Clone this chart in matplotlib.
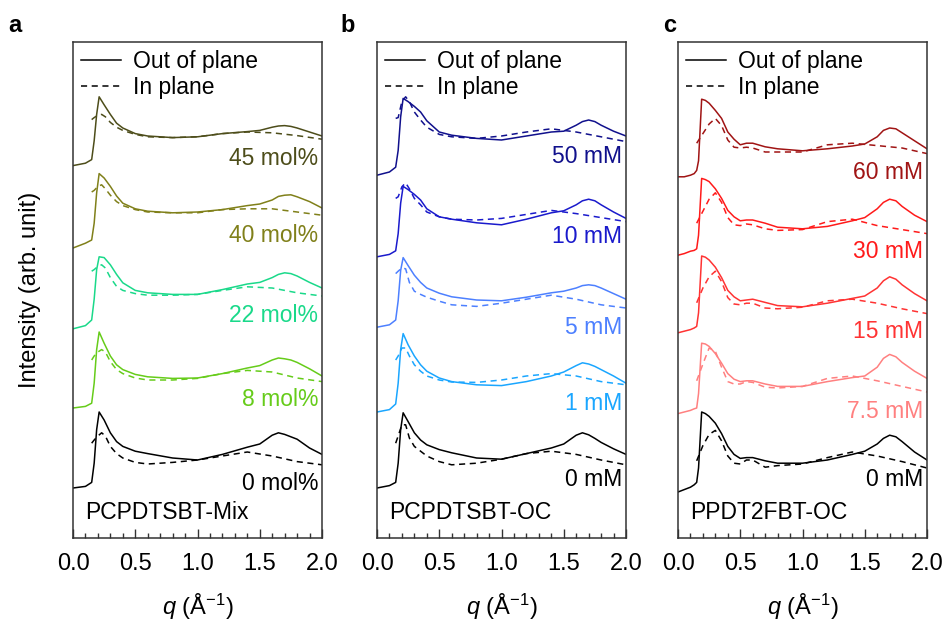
import matplotlib.pyplot as plt
from matplotlib.lines import Line2D
from matplotlib.ticker import MultipleLocator, FuncFormatter

plt.rcParams['font.family'] = ['Liberation Sans', 'DejaVu Sans']
plt.rcParams['mathtext.fontset'] = 'custom'
plt.rcParams['mathtext.rm'] = 'Liberation Sans'
plt.rcParams['mathtext.it'] = 'Liberation Sans:italic'

# q grids (1/Angstrom) for out-of-plane (oop) and in-plane (ip) line cuts
q_oop_ab = [0, 0.1, 0.15, 0.17, 0.19, 0.21, 0.25, 0.3, 0.35, 0.4, 0.5, 0.6, 0.8, 1.0,
            1.2, 1.4, 1.5, 1.6, 1.65, 1.7, 1.75, 1.8, 1.9, 2.0]
q_ip_ab = [0.15, 0.17, 0.2, 0.23, 0.26, 0.3, 0.35, 0.4, 0.5, 0.6, 0.8, 1.0, 1.2, 1.4,
           1.6, 1.8, 2.0]
q_oop_c = [0, 0.05, 0.1, 0.13, 0.15, 0.165, 0.19, 0.22, 0.25, 0.3, 0.35, 0.4, 0.45, 0.5,
           0.55, 0.6, 0.7, 0.8, 1.0, 1.2, 1.4, 1.5, 1.6, 1.65, 1.7, 1.75, 1.8, 1.9, 2.0]
q_ip_c = [0.15, 0.2, 0.25, 0.3, 0.35, 0.4, 0.45, 0.5, 0.55, 0.6, 0.7, 0.8, 1.0, 1.2, 1.4,
          1.6, 1.8, 2.0]

# a: PCPDTSBT-Mix
a45_oop = [0, 0.03, 0.075, 0.31, 0.64, 0.86, 0.76, 0.64, 0.53, 0.47, 0.40, 0.37, 0.35, 0.36,
           0.40, 0.425, 0.44, 0.48, 0.495, 0.50, 0.49, 0.47, 0.42, 0.37]
a45_ip = [0.575, 0.60, 0.63, 0.64, 0.61, 0.54, 0.48, 0.44, 0.39, 0.36, 0.35, 0.36, 0.40, 0.42,
          0.41, 0.375, 0.33]
a40_oop = [0, 0.06, 0.10, 0.31, 0.69, 0.93, 0.875, 0.77, 0.65, 0.56, 0.49, 0.46, 0.44, 0.45,
           0.48, 0.53, 0.55, 0.60, 0.645, 0.66, 0.665, 0.64, 0.58, 0.50]
a40_ip = [0.70, 0.72, 0.77, 0.79, 0.74, 0.66, 0.58, 0.53, 0.48, 0.45, 0.44, 0.44, 0.48, 0.49,
          0.49, 0.45, 0.41]
a22_oop = [0, 0.04, 0.11, 0.37, 0.74, 0.90, 0.89, 0.80, 0.68, 0.575, 0.48, 0.45, 0.43, 0.43,
           0.49, 0.56, 0.58, 0.64, 0.68, 0.70, 0.69, 0.66, 0.58, 0.51]
a22_ip = [0.72, 0.74, 0.78, 0.80, 0.76, 0.64, 0.53, 0.48, 0.44, 0.42, 0.42, 0.43, 0.48, 0.525,
          0.51, 0.45, 0.41]
a8_oop = [0, 0.02, 0.06, 0.31, 0.73, 0.95, 0.81, 0.65, 0.54, 0.48, 0.42, 0.39, 0.37, 0.375,
          0.43, 0.50, 0.53, 0.60, 0.625, 0.615, 0.60, 0.57, 0.49, 0.40]
a8_ip = [0.60, 0.65, 0.70, 0.73, 0.70, 0.58, 0.48, 0.43, 0.375, 0.35, 0.35, 0.37, 0.43, 0.47,
         0.45, 0.375, 0.33]
a0_oop = [0, 0.02, 0.07, 0.31, 0.73, 0.95, 0.85, 0.69, 0.58, 0.52, 0.46, 0.43, 0.375, 0.35,
          0.42, 0.51, 0.55, 0.66, 0.69, 0.67, 0.64, 0.61, 0.50, 0.42]
a0_ip = [0.56, 0.60, 0.65, 0.69, 0.65, 0.52, 0.43, 0.375, 0.32, 0.30, 0.32, 0.35, 0.40, 0.45,
         0.40, 0.33, 0.29]

# b: PCPDTSBT-OC
b50_oop = [0, 0.04, 0.10, 0.31, 0.73, 0.96, 0.92, 0.86, 0.79, 0.68, 0.54, 0.50, 0.46, 0.44,
           0.49, 0.54, 0.55, 0.625, 0.67, 0.69, 0.67, 0.625, 0.55, 0.49]
b50_ip = [0.71, 0.72, 0.92, 0.98, 0.92, 0.79, 0.69, 0.60, 0.51, 0.48, 0.46, 0.49, 0.54, 0.58,
          0.54, 0.48, 0.42]
b10_oop = [0, 0.03, 0.075, 0.29, 0.67, 0.88, 0.84, 0.78, 0.71, 0.60, 0.50, 0.47, 0.425, 0.40,
           0.47, 0.55, 0.575, 0.65, 0.70, 0.72, 0.70, 0.65, 0.56, 0.48]
b10_ip = [0.73, 0.75, 0.875, 0.925, 0.85, 0.73, 0.65, 0.56, 0.50, 0.47, 0.46, 0.48, 0.53, 0.58,
          0.54, 0.49, 0.44]
b5_oop = [0, 0.03, 0.09, 0.33, 0.71, 0.87, 0.77, 0.65, 0.56, 0.49, 0.425, 0.38, 0.34, 0.33,
          0.375, 0.43, 0.45, 0.49, 0.52, 0.53, 0.52, 0.49, 0.42, 0.35]
b5_ip = [0.67, 0.70, 0.74, 0.73, 0.56, 0.45, 0.41, 0.375, 0.325, 0.28, 0.26, 0.30, 0.35, 0.40,
         0.35, 0.28, 0.24]
b1_oop = [0, 0.03, 0.10, 0.36, 0.78, 0.98, 0.84, 0.70, 0.59, 0.51, 0.425, 0.38, 0.34, 0.33,
          0.38, 0.45, 0.50, 0.58, 0.615, 0.60, 0.57, 0.53, 0.45, 0.36]
b1_ip = [0.65, 0.70, 0.80, 0.80, 0.70, 0.59, 0.51, 0.45, 0.40, 0.375, 0.37, 0.40, 0.45, 0.48,
         0.45, 0.38, 0.34]
b0_oop = [0, 0.03, 0.07, 0.31, 0.73, 0.94, 0.83, 0.69, 0.60, 0.54, 0.48, 0.44, 0.375, 0.36,
          0.43, 0.50, 0.55, 0.66, 0.69, 0.665, 0.62, 0.57, 0.49, 0.42]
b0_ip = [0.56, 0.65, 0.79, 0.79, 0.625, 0.52, 0.46, 0.40, 0.33, 0.29, 0.31, 0.36, 0.43, 0.46,
         0.42, 0.35, 0.29]

# c: PPDT2FBT-OC
c60_oop = [0, 0, 0.02, 0.04, 0.08, 0.20, 0.97, 0.955, 0.92, 0.83, 0.73, 0.56, 0.47, 0.40,
           0.42, 0.42, 0.375, 0.35, 0.325, 0.35, 0.385, 0.41, 0.50, 0.58, 0.61, 0.60, 0.55,
           0.45, 0.35]
c60_ip = [0.42, 0.54, 0.66, 0.73, 0.64, 0.46, 0.37, 0.36, 0.37, 0.36, 0.31, 0.31, 0.31, 0.40,
          0.42, 0.39, 0.36, 0.29]
c30_oop = [0, 0.02, 0.05, 0.06, 0.08, 0.25, 0.96, 0.945, 0.92, 0.83, 0.71, 0.56, 0.48, 0.43,
           0.44, 0.44, 0.40, 0.35, 0.33, 0.36, 0.43, 0.47, 0.58, 0.66, 0.70, 0.68, 0.61,
           0.50, 0.42]
c30_ip = [0.40, 0.55, 0.70, 0.78, 0.66, 0.47, 0.38, 0.37, 0.39, 0.38, 0.33, 0.31, 0.32, 0.42,
          0.45, 0.37, 0.32, 0.27]
c15_oop = [0, 0.02, 0.04, 0.06, 0.08, 0.25, 0.96, 0.945, 0.91, 0.82, 0.69, 0.53, 0.45, 0.40,
           0.41, 0.42, 0.38, 0.34, 0.325, 0.37, 0.43, 0.46, 0.56, 0.65, 0.70, 0.67, 0.60,
           0.49, 0.40]
c15_ip = [0.375, 0.56, 0.70, 0.77, 0.64, 0.44, 0.36, 0.35, 0.37, 0.37, 0.31, 0.30, 0.32, 0.40,
          0.42, 0.37, 0.30, 0.24]
c7_oop = [0, 0.02, 0.04, 0.06, 0.07, 0.25, 0.88, 0.87, 0.84, 0.75, 0.63, 0.50, 0.43, 0.40,
          0.41, 0.41, 0.37, 0.34, 0.34, 0.40, 0.45, 0.47, 0.58, 0.69, 0.74, 0.71, 0.64,
          0.53, 0.44]
c7_ip = [0.41, 0.62, 0.82, 0.78, 0.58, 0.40, 0.37, 0.37, 0.40, 0.39, 0.33, 0.32, 0.34, 0.44,
         0.47, 0.41, 0.34, 0.27]
c0_oop = [0, 0.03, 0.06, 0.09, 0.12, 0.30, 1.0, 0.98, 0.945, 0.86, 0.73, 0.57, 0.47, 0.42,
          0.43, 0.43, 0.39, 0.36, 0.36, 0.40, 0.47, 0.51, 0.60, 0.67, 0.71, 0.69, 0.63,
          0.50, 0.40]
c0_ip = [0.39, 0.58, 0.72, 0.77, 0.64, 0.45, 0.36, 0.35, 0.40, 0.40, 0.31, 0.33, 0.35, 0.43,
         0.50, 0.45, 0.38, 0.30]

# sample labels, colours and vertical offsets (bottom trace first)
labels_a = ['0 mol%', '8 mol%', '22 mol%', '40 mol%', '45 mol%']
labels_b = ['0 mM', '1 mM', '5 mM', '10 mM', '50 mM']
labels_c = ['0 mM', '7.5 mM', '15 mM', '30 mM', '60 mM']
colors_a = ['black', '#66cc1a', '#1ad98a', '#80801a', '#4d4d1a']
colors_b = ['black', '#1aa6ff', '#4d80ff', '#1a1acc', '#10108c']
colors_c = ['black', '#ff8080', '#ff3333', '#ff1a1a', '#a01414']
offsets_a = [0, 1.0, 1.99, 3.0, 4.03]
offsets_b = [0, 0.95, 2.01, 2.89, 3.91]
offsets_c = [-0.05, 0.93, 1.94, 2.91, 3.89]
label_y_a = [0.06, 1.10, 2.16, 3.16, 4.12]
label_y_b = [0.10, 1.05, 2.01, 3.14, 4.14]
label_y_c = [0.10, 0.96, 1.95, 2.95, 3.94]

panels = [
    ('a', 'PCPDTSBT-Mix', q_oop_ab, q_ip_ab, labels_a, colors_a, offsets_a, label_y_a,
     [a0_oop, a8_oop, a22_oop, a40_oop, a45_oop], [a0_ip, a8_ip, a22_ip, a40_ip, a45_ip]),
    ('b', 'PCPDTSBT-OC', q_oop_ab, q_ip_ab, labels_b, colors_b, offsets_b, label_y_b,
     [b0_oop, b1_oop, b5_oop, b10_oop, b50_oop], [b0_ip, b1_ip, b5_ip, b10_ip, b50_ip]),
    ('c', 'PPDT2FBT-OC', q_oop_c, q_ip_c, labels_c, colors_c, offsets_c, label_y_c,
     [c0_oop, c7_oop, c15_oop, c30_oop, c60_oop], [c0_ip, c7_ip, c15_ip, c30_ip, c60_ip]),
]

W, H = 946, 621
fig = plt.figure(figsize=(W / 100, H / 100), dpi=100)
lefts = [73, 377, 678]
letter_x = [8, 340, 663]
dash = (0, (4, 3))

for i, (letter, name, q_oop, q_ip, labs, cols, offs, laby, oops, ips) in enumerate(panels):
    ax = fig.add_axes([lefts[i] / W, (H - 538) / H, 249 / W, 496 / H])
    for lab, col, off, ly, oop, ip in zip(labs, cols, offs, laby, oops, ips):
        ax.plot(q_oop, [v + off for v in oop], color=col, lw=1.1)
        ax.plot(q_ip, [v + off for v in ip], color=col, lw=1.1, ls=dash)
        ax.text(1.97, ly, lab, color=col, fontsize=16.5, ha='right', va='center')

    ax.set_xlim(0, 2.0)
    ax.set_ylim(-0.625, 5.575)
    ax.xaxis.set_major_locator(MultipleLocator(0.5))
    ax.xaxis.set_minor_locator(MultipleLocator(0.1))
    ax.xaxis.set_major_formatter(FuncFormatter(lambda x, p: f'{x:.1f}'))
    ax.tick_params(axis='x', which='major', direction='in', length=6.5, width=1,
                   labelsize=17, pad=11, color='#333333')
    ax.tick_params(axis='x', which='minor', direction='in', length=3.3, width=1,
                   color='#333333')
    ax.set_yticks([])
    for sp in ax.spines.values():
        sp.set_linewidth(1.1)
        sp.set_color('#333333')

    handles = [Line2D([], [], color='black', lw=1.1),
               Line2D([], [], color='black', lw=1.1, ls=dash)]
    ax.legend(handles, ['Out of plane', 'In plane'], loc='upper left', frameon=False,
              fontsize=16.5, handlelength=1.75, handletextpad=0.5, labelspacing=0.15,
              borderaxespad=0.05, borderpad=0.3)
    ax.text(0.048, 0.052, name, transform=ax.transAxes, fontsize=16.5,
            ha='left', va='center')
    ax.set_xlabel(r'$q$ (Å$^{-1}$)', fontsize=17, labelpad=12)
    fig.text(letter_x[i] / W, 1 - 25 / H, letter, fontsize=17, fontweight='bold',
             ha='left', va='center')

fig.text(30 / W, 1 - 290 / H, 'Intensity (arb. unit)', fontsize=17, rotation=90,
         ha='center', va='center')

fig.savefig('out.png', dpi=100)
